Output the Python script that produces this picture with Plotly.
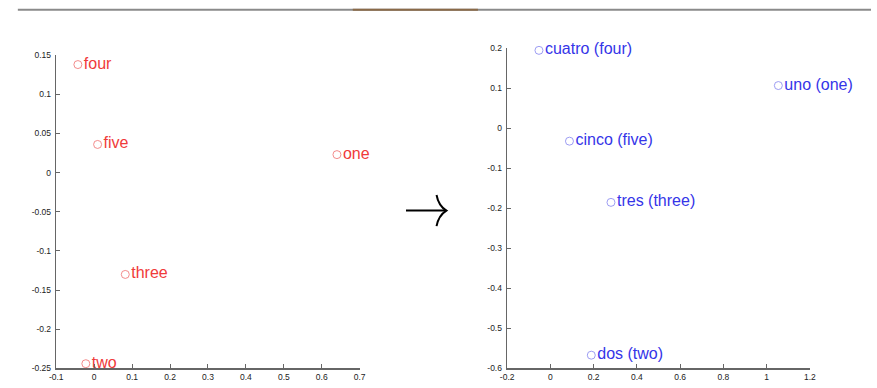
import plotly.graph_objects as go

# ---- data ----
en_words = ["four", "five", "one", "three", "two"]
en_x = [-0.043, 0.009, 0.640, 0.082, -0.022]
en_y = [0.138, 0.036, 0.023, -0.130, -0.244]

es_words = ["cuatro (four)", "uno (one)", "cinco (five)", "tres (three)", "dos (two)"]
es_x = [-0.053, 1.054, 0.088, 0.280, 0.189]
es_y = [0.195, 0.107, -0.032, -0.185, -0.567]

left_xticks = [-0.1, 0, 0.1, 0.2, 0.3, 0.4, 0.5, 0.6, 0.7]
left_xtext = ["-0.1", "0", "0.1", "0.2", "0.3", "0.4", "0.5", "0.6", "0.7"]
left_yticks = [0.15, 0.1, 0.05, 0, -0.05, -0.1, -0.15, -0.2, -0.25]
left_ytext = ["0.15", "0.1", "0.05", "0", "-0.05", "-0.1", "-0.15", "-0.2", "-0.25"]
right_xticks = [-0.2, 0, 0.2, 0.4, 0.6, 0.8, 1, 1.2]
right_xtext = ["-0.2", "0", "0.2", "0.4", "0.6", "0.8", "1", "1.2"]
right_yticks = [0.2, 0.1, 0, -0.1, -0.2, -0.3, -0.4, -0.5, -0.6]
right_ytext = ["0.2", "0.1", "0", "-0.1", "-0.2", "-0.3", "-0.4", "-0.5", "-0.6"]

W, H = 877, 388
LABEL_FONT = "Liberation Sans, Arial, sans-serif"
TICK_FONT = "Liberation Sans, Arial, sans-serif"

fig = go.Figure()
fig.add_trace(go.Scatter(
    x=en_x, y=en_y, text=en_words, mode="markers+text", textposition="middle right",
    marker=dict(symbol="circle-open", size=8, color="rgba(240,120,120,0.85)", line=dict(width=1)),
    textfont=dict(family=LABEL_FONT, size=16, color="#f03a3a"),
    xaxis="x", yaxis="y", showlegend=False, cliponaxis=False, hoverinfo="skip"))
fig.add_trace(go.Scatter(
    x=es_x, y=es_y, text=es_words, mode="markers+text", textposition="middle right",
    marker=dict(symbol="circle-open", size=8, color="rgba(140,140,240,0.85)", line=dict(width=1)),
    textfont=dict(family=LABEL_FONT, size=16, color="#3535e8"),
    xaxis="x2", yaxis="y2", showlegend=False, cliponaxis=False, hoverinfo="skip"))

axcommon = dict(showgrid=False, zeroline=False, showline=True, linecolor="#666", linewidth=1.5,
                ticks="inside", ticklen=4, tickcolor="#666", tickwidth=1,
                tickfont=dict(family=TICK_FONT, size=8.5, color="#222"))

fig.update_layout(
    width=W, height=H, margin=dict(l=0, r=0, t=0, b=0),
    paper_bgcolor="white", plot_bgcolor="white",
    xaxis=dict(domain=[50/W, 358/W], range=[-0.1, 0.7], anchor="y",
               tickvals=left_xticks, ticktext=left_xtext, ticklabelstandoff=0, **axcommon),
    yaxis=dict(domain=[(H-373)/H, (H-51.5)/H], range=[-0.25, 0.15], anchor="x",
               tickvals=left_yticks, ticktext=left_ytext, ticklabelstandoff=2, **axcommon),
    xaxis2=dict(domain=[507.7/W, 815/W], range=[-0.2, 1.2], anchor="y2",
                tickvals=right_xticks, ticktext=right_xtext, ticklabelstandoff=0, **axcommon),
    yaxis2=dict(domain=[(H-373)/H, (H-44.5)/H], range=[-0.6, 0.2], anchor="x2",
                tickvals=right_yticks, ticktext=right_ytext, ticklabelstandoff=2, **axcommon),
)

# top rule line
fig.add_shape(type="line", xref="paper", yref="paper", x0=11/W, x1=1, y0=(H-5)/H, y1=(H-5)/H,
              line=dict(color="#8a8a8a", width=2))
fig.add_shape(type="line", xref="paper", yref="paper", x0=351/W, x1=478/W, y0=(H-5)/H, y1=(H-5)/H,
              line=dict(color="#8a6a48", width=2))

# arrow between panels
ay = (H-211)/H
fig.add_shape(type="line", xref="paper", yref="paper", x0=405/W, x1=446/W, y0=ay, y1=ay,
              line=dict(color="black", width=2))
fig.add_shape(type="path", xref="paper", yref="paper",
              path=f"M {436/W} {(H-195)/H} Q {438/W} {(H-206)/H} {446/W} {ay} Q {438/W} {(H-216)/H} {436/W} {(H-227)/H}",
              line=dict(color="black", width=2))

fig.write_html("out.html", config={"displayModeBar": False, "staticPlot": True},
               post_script="document.documentElement.style.margin='0';document.documentElement.style.padding='0';document.body.style.margin='0';document.body.style.padding='0';document.documentElement.style.overflow='hidden';document.body.style.overflow='hidden';")
